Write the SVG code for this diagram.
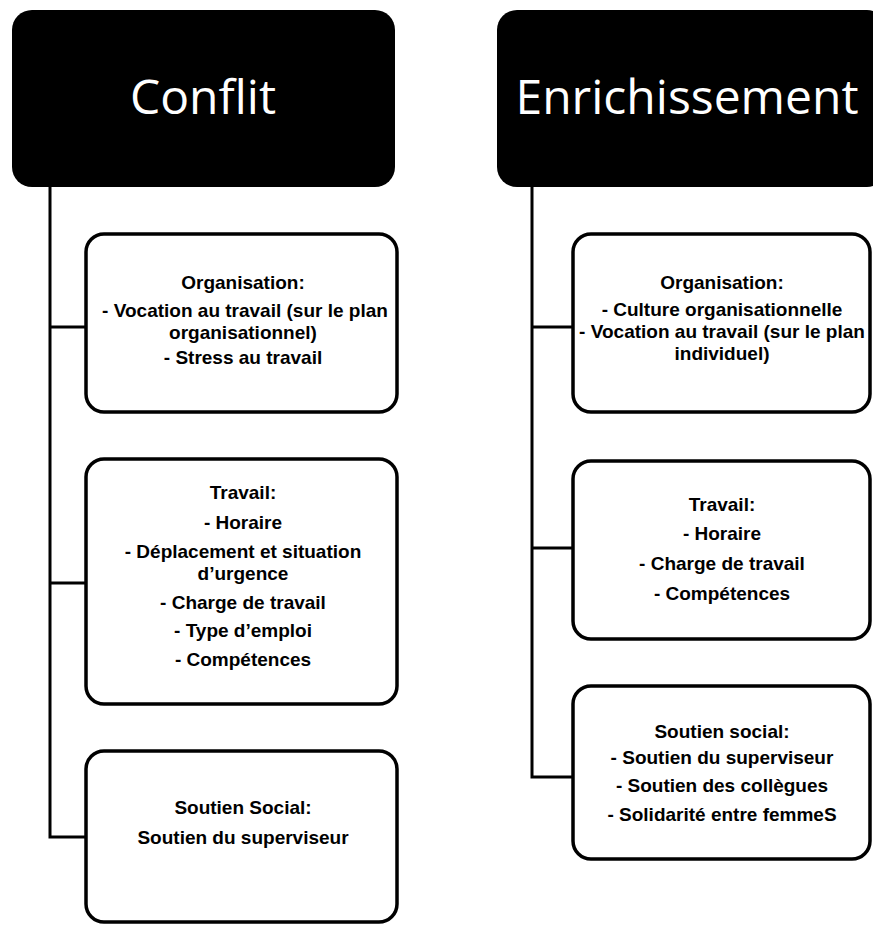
<svg xmlns="http://www.w3.org/2000/svg" width="873" height="925" viewBox="0 0 873 925">
<style>
.hdr{fill:#000;}
.htxt{font-family:"Open Sans","Noto Sans",sans-serif;font-size:48px;fill:#fff;text-anchor:middle;}
.box{fill:#fff;stroke:#000;stroke-width:3.5;}
.t{font-family:"Liberation Sans",Arial,sans-serif;font-size:19px;font-weight:700;fill:#000;text-anchor:middle;}
.conn{fill:none;stroke:#000;stroke-width:3;}
</style>
<rect width="873" height="925" fill="#fff"/>
<g id="connectors">
<path class="conn" d="M50,187 V837 H86 M50,327 H86 M50,583 H86"/>
<path class="conn" d="M532,187 V777 H573 M532,327 H573 M532,548 H573"/>
</g>
<g id="conflit">
<rect class="hdr" x="12" y="10" width="383" height="177" rx="20"/>
<text class="htxt" x="203" y="114">Conflit</text>
</g>
<g id="enrichissement">
<rect class="hdr" x="497" y="10" width="390" height="177" rx="20"/>
<text class="htxt" x="687" y="114">Enrichissement</text>
</g>
<g id="c-organisation">
<rect class="box" x="86" y="234" width="311" height="178" rx="18"/>
<text class="t" x="243" y="289">Organisation:</text>
<text class="t" x="245" y="317">- Vocation au travail (sur le plan</text>
<text class="t" x="243" y="339">organisationnel)</text>
<text class="t" x="243" y="364">- Stress au travail</text>
</g>
<g id="c-travail">
<rect class="box" x="86" y="459" width="311" height="245" rx="18"/>
<text class="t" x="243" y="499">Travail:</text>
<text class="t" x="243" y="529">- Horaire</text>
<text class="t" x="243" y="558">- Déplacement et situation</text>
<text class="t" x="243" y="580">d’urgence</text>
<text class="t" x="243" y="609">- Charge de travail</text>
<text class="t" x="243" y="637">- Type d’emploi</text>
<text class="t" x="243" y="666">- Compétences</text>
</g>
<g id="c-soutien">
<rect class="box" x="86" y="751" width="311" height="171" rx="18"/>
<text class="t" x="243" y="814">Soutien Social:</text>
<text class="t" x="243" y="844">Soutien du superviseur</text>
</g>
<g id="e-organisation">
<rect class="box" x="573" y="234" width="297" height="178" rx="18"/>
<text class="t" x="722" y="289">Organisation:</text>
<text class="t" x="722" y="316">- Culture organisationnelle</text>
<text class="t" x="722" y="338">- Vocation au travail (sur le plan</text>
<text class="t" x="722" y="360">individuel)</text>
</g>
<g id="e-travail">
<rect class="box" x="573" y="461" width="297" height="178" rx="18"/>
<text class="t" x="722" y="511">Travail:</text>
<text class="t" x="722" y="540">- Horaire</text>
<text class="t" x="722" y="570">- Charge de travail</text>
<text class="t" x="722" y="600">- Compétences</text>
</g>
<g id="e-soutien">
<rect class="box" x="573" y="686" width="297" height="173" rx="18"/>
<text class="t" x="722" y="738">Soutien social:</text>
<text class="t" x="722" y="764">- Soutien du superviseur</text>
<text class="t" x="722" y="792">- Soutien des collègues</text>
<text class="t" x="722" y="821">- Solidarité entre femmeS</text>
</g>
</svg>
